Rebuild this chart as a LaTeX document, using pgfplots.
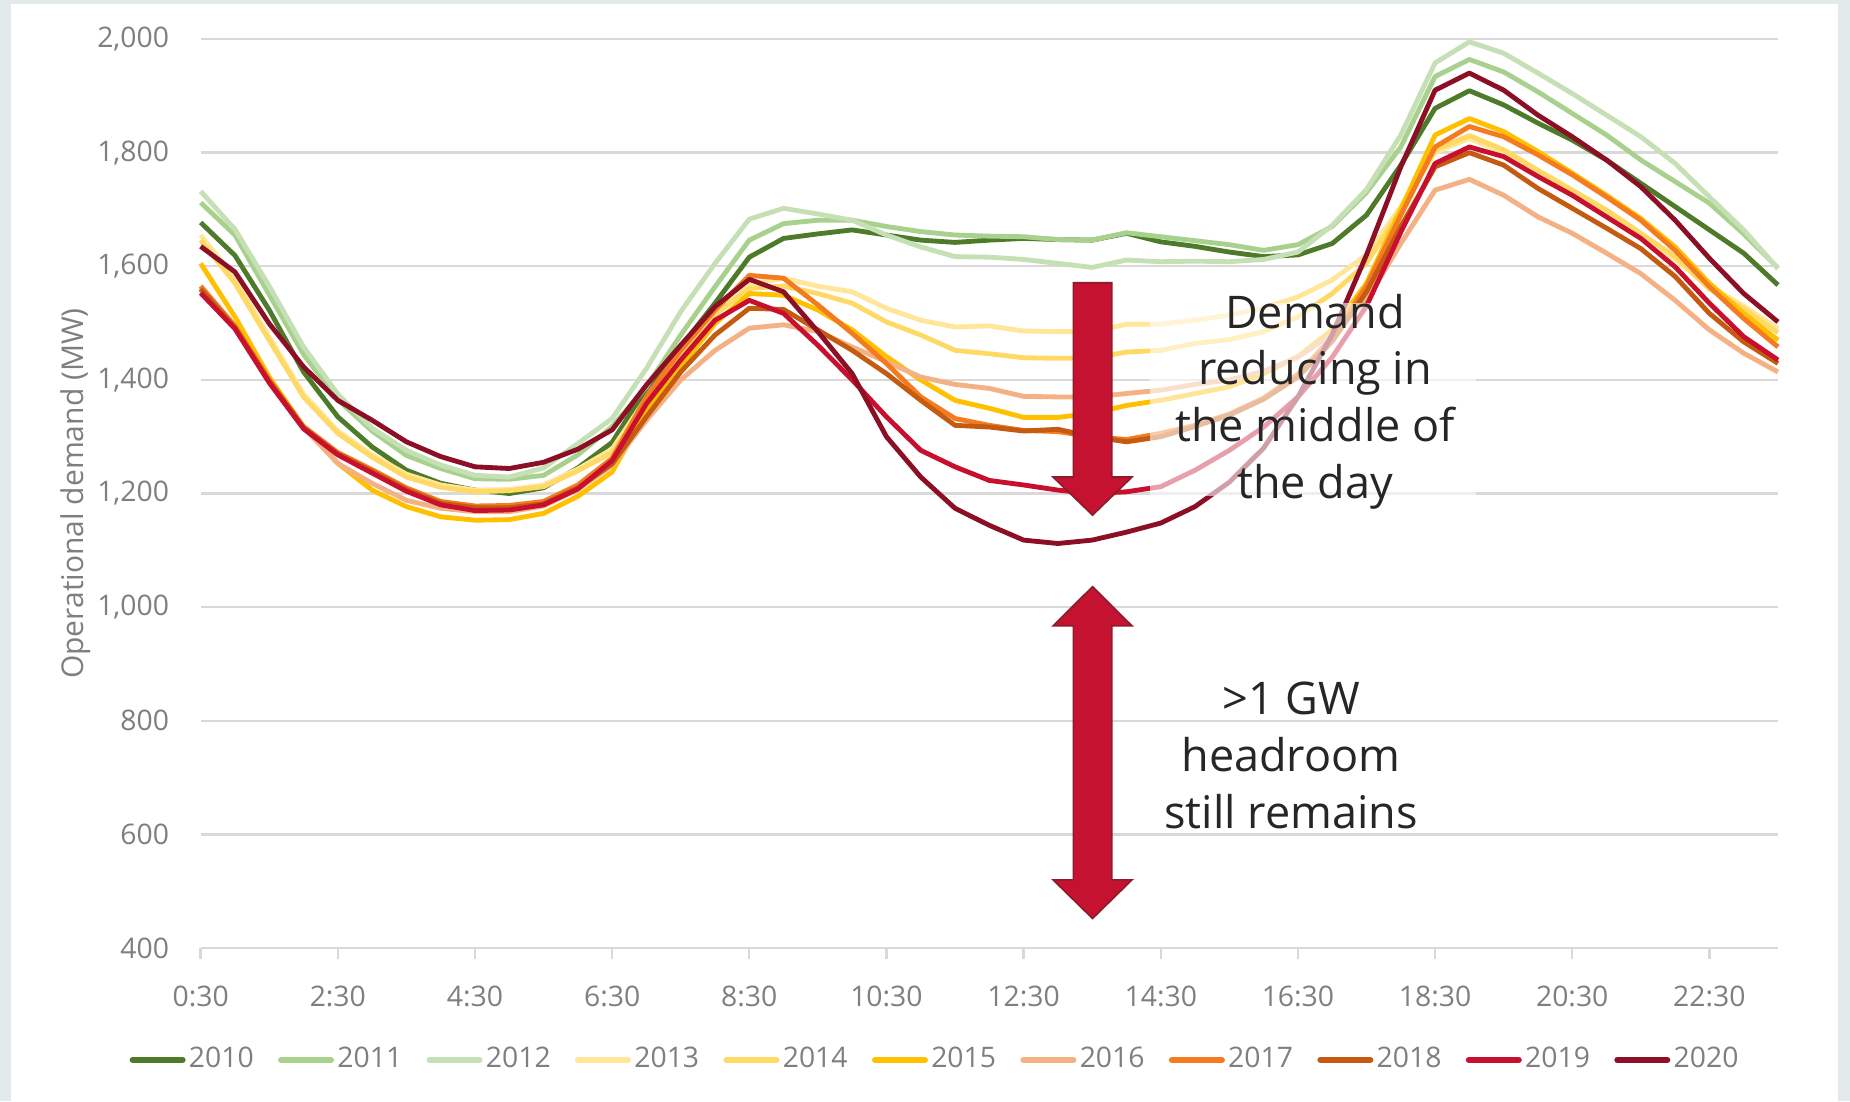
\documentclass[border=0pt]{standalone}
\usepackage{fontspec}
\setmainfont{Open Sans}
\usepackage{pgfplots}
\usepackage{pgfplotstable}
\pgfplotsset{compat=1.18}

\definecolor{c2010}{HTML}{4E7B2A}
\definecolor{c2011}{HTML}{A9D18E}
\definecolor{c2012}{HTML}{C5E0B4}
\definecolor{c2013}{HTML}{FFE699}
\definecolor{c2014}{HTML}{FFD966}
\definecolor{c2015}{HTML}{FFC000}
\definecolor{c2016}{HTML}{F4B183}
\definecolor{c2017}{HTML}{F47B20}
\definecolor{c2018}{HTML}{C55A11}
\definecolor{c2019}{HTML}{C8102E}
\definecolor{c2020}{HTML}{8C0F25}
\definecolor{arrowfill}{HTML}{C41230}
\definecolor{arrowdraw}{HTML}{8E1B2C}
\definecolor{framecol}{HTML}{E1E9EB}
\definecolor{tickgray}{HTML}{7F7F7F}
\definecolor{gridgray}{HTML}{D9D9D9}
\definecolor{textdark}{HTML}{262626}

% t = half-hour index: 0 = 0:30 ... 46 = 23:30
\pgfplotstableread{
t a2010 a2011 a2012 a2013 a2014 a2015 a2016 a2017 a2018 a2019 a2020
0 1677 1712 1732 1655 1646 1605 1561 1565 1560 1553 1635
1 1619 1655 1665 1578 1570 1511 1493 1495 1492 1490 1590
2 1523 1550 1565 1475 1470 1405 1399 1400 1398 1395 1499
3 1414 1445 1458 1375 1370 1317 1317 1318 1316 1314 1423
4 1335 1365 1375 1310 1306 1253 1253 1272 1270 1268 1364
5 1282 1310 1315 1268 1264 1206 1218 1242 1239 1236 1329
6 1241 1267 1276 1234 1229 1177 1188 1210 1207 1204 1291
7 1218 1244 1250 1215 1211 1159 1174 1186 1183 1180 1265
8 1206 1226 1232 1206 1203 1153 1168 1178 1175 1170 1247
9 1200 1225 1229 1207 1205 1154 1168 1179 1175 1171 1244
10 1210 1232 1245 1215 1212 1165 1178 1186 1182 1180 1255
11 1245 1268 1288 1243 1240 1195 1207 1215 1210 1208 1278
12 1290 1318 1332 1278 1272 1238 1250 1262 1252 1258 1312
13 1385 1388 1420 1368 1362 1345 1329 1370 1335 1358 1391
14 1458 1479 1520 1442 1438 1423 1400 1452 1414 1435 1461
15 1535 1564 1605 1520 1515 1499 1452 1523 1479 1505 1529
16 1616 1646 1683 1568 1561 1552 1491 1584 1526 1540 1577
17 1649 1675 1702 1579 1565 1549 1497 1579 1524 1517 1555
18 1657 1681 1692 1565 1552 1523 1485 1532 1488 1461 1485
19 1664 1681 1681 1555 1535 1488 1458 1482 1452 1400 1411
20 1655 1670 1655 1526 1502 1441 1432 1429 1411 1335 1300
21 1646 1661 1634 1505 1479 1400 1405 1370 1364 1276 1229
22 1642 1655 1617 1493 1452 1364 1392 1332 1320 1247 1174
23 1646 1653 1616 1495 1446 1350 1385 1320 1317 1223 1144
24 1649 1652 1612 1486 1439 1334 1371 1311 1310 1215 1118
25 1647 1647 1605 1485 1438 1334 1370 1309 1313 1206 1112
26 1646 1646 1598 1485 1438 1341 1370 1300 1300 1200 1118
27 1658 1659 1611 1498 1449 1355 1376 1295 1291 1203 1132
28 1643 1652 1608 1498 1452 1364 1382 1306 1300 1212 1148
29 1635 1645 1609 1505 1464 1376 1392 1320 1318 1241 1177
30 1625 1638 1608 1514 1471 1388 1400 1340 1338 1276 1220
31 1617 1628 1612 1526 1485 1411 1415 1368 1366 1317 1280
32 1620 1638 1625 1546 1511 1441 1440 1410 1405 1370 1370
33 1640 1670 1672 1576 1552 1488 1480 1475 1468 1440 1480
34 1690 1730 1735 1620 1605 1570 1540 1565 1555 1530 1620
35 1778 1810 1831 1705 1700 1700 1640 1690 1670 1660 1775
36 1878 1934 1958 1800 1805 1831 1734 1810 1775 1781 1910
37 1909 1964 1995 1825 1830 1860 1753 1846 1800 1810 1940
38 1884 1942 1975 1800 1805 1837 1725 1828 1778 1793 1910
39 1852 1907 1940 1765 1769 1802 1687 1796 1737 1758 1866
40 1822 1869 1904 1730 1734 1764 1658 1761 1702 1725 1828
41 1787 1831 1866 1696 1699 1725 1623 1722 1667 1687 1787
42 1746 1787 1828 1655 1658 1684 1587 1681 1631 1649 1740
43 1705 1749 1781 1612 1617 1634 1540 1628 1582 1599 1681
44 1664 1711 1722 1565 1560 1570 1488 1564 1517 1535 1614
45 1623 1657 1664 1530 1525 1517 1447 1508 1467 1476 1552
46 1567 1597 1596 1490 1483 1470 1414 1458 1429 1435 1502
}\demand

\begin{document}
\begin{tikzpicture}
\fill[framecol] (0,0) rectangle (555pt,330.3pt);
\fill[white] (3.4pt,0) rectangle (551.5pt,329.1pt);
\begin{axis}[
  at={(60.2pt,45.9pt)}, anchor=south west,
  scale only axis, width=473.2pt, height=272.7pt,
  xmin=0, xmax=46, ymin=400, ymax=2000,
  xtick={0,4,...,44},
  xticklabels={0:30,2:30,4:30,6:30,8:30,10:30,12:30,14:30,16:30,18:30,20:30,22:30},
  ytick={400,600,...,2000},
  ymajorgrids, grid style={gridgray, line width=0.7pt},
  axis line style={draw=none},
  xtick pos=bottom, xtick align=outside, major tick length=3.3pt,
  x tick style={gridgray, line width=0.7pt},
  y tick style={draw=none},
  tick label style={font=\fontsize{8.5}{10}\selectfont, text=tickgray},
  /pgf/number format/1000 sep={,},
  /pgf/number format/assume math mode=true,
  yticklabel style={anchor=east, inner sep=0pt, xshift=-9.3pt},
  xticklabel style={anchor=north, inner sep=0pt, yshift=-7.9pt},
  every axis y label/.style={at={(axis description cs:-0.079,0.5)}, rotate=90, anchor=center,
     font=\fontsize{9}{11}\selectfont, text=tickgray},
  ylabel={Operational demand (MW)},
  legend columns=11,
  legend style={draw=none, fill=none, at={(0.466,-0.123)}, anchor=center,
     font=\fontsize{8.5}{10}\selectfont, text=tickgray, inner sep=0pt,
     nodes={inner sep=1pt},
     /tikz/every even column/.append style={column sep=6.3pt}},
  legend image code/.code={\draw[line width=1.8pt, line cap=round] (0pt,0pt) -- (15pt,0pt);},
  every axis plot/.append style={line width=1.45pt, line join=round, no markers},
  clip=false,
]
\addplot[c2010] table[x=t, y=a2010] {\demand}; \addlegendentry{2010}
\addplot[c2011] table[x=t, y=a2011] {\demand}; \addlegendentry{2011}
\addplot[c2012] table[x=t, y=a2012] {\demand}; \addlegendentry{2012}
\addplot[c2013] table[x=t, y=a2013] {\demand}; \addlegendentry{2013}
\addplot[c2014] table[x=t, y=a2014] {\demand}; \addlegendentry{2014}
\addplot[c2015] table[x=t, y=a2015] {\demand}; \addlegendentry{2015}
\addplot[c2016] table[x=t, y=a2016] {\demand}; \addlegendentry{2016}
\addplot[c2017] table[x=t, y=a2017] {\demand}; \addlegendentry{2017}
\addplot[c2018] table[x=t, y=a2018] {\demand}; \addlegendentry{2018}
\addplot[c2019] table[x=t, y=a2019] {\demand}; \addlegendentry{2019}
\addplot[c2020] table[x=t, y=a2020] {\demand}; \addlegendentry{2020}

% semi-transparent box behind the upper annotation
\fill[white, opacity=0.6] (axis cs:27.7,1535) rectangle (axis cs:37.2,1196);

% down arrow
\filldraw[fill=arrowfill, draw=arrowdraw, line width=0.5pt, line join=miter]
  (axis cs:25.45,1571) -- (axis cs:26.57,1571) -- (axis cs:26.57,1229) -- (axis cs:27.16,1229)
  -- (axis cs:26.01,1162) -- (axis cs:24.86,1229) -- (axis cs:25.45,1229) -- cycle;
% double arrow
\filldraw[fill=arrowfill, draw=arrowdraw, line width=0.5pt, line join=miter]
  (axis cs:26.01,1036) -- (axis cs:27.16,967) -- (axis cs:26.57,967) -- (axis cs:26.57,520)
  -- (axis cs:27.16,520) -- (axis cs:26.01,452) -- (axis cs:24.86,520) -- (axis cs:25.45,520)
  -- (axis cs:25.45,967) -- (axis cs:24.86,967) -- cycle;

\node[align=center, font=\fontsize{13.5}{17}\selectfont, text=textdark] at (axis cs:32.5,1362)
  {Demand\\reducing in\\the middle of\\the day};
\node[align=center, font=\fontsize{13.5}{17}\selectfont, text=textdark] at (axis cs:31.8,739)
  {>1 GW\\headroom\\still remains};
\end{axis}
\pgfresetboundingbox
\path (0,0) rectangle (555pt,330.3pt);
\end{tikzpicture}
\end{document}
